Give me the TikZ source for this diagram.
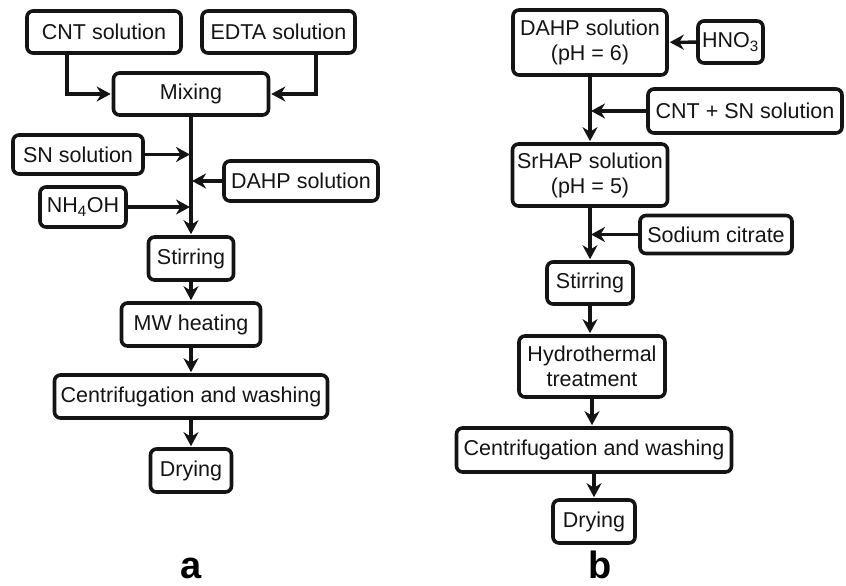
\documentclass[tikz,border=0pt]{standalone}
\usepackage{fontspec}
\setmainfont{Liberation Sans}
\usetikzlibrary{arrows.meta, positioning, calc}
\definecolor{inkgray}{HTML}{141414}
\tikzset{
  proc/.style={draw=inkgray, line width=3.6pt, rounded corners=6pt, fill=white,
               align=center, inner sep=3pt, text=inkgray,
               font=\fontsize{21.5}{25}\selectfont, minimum height=42pt},
  flow/.style={-{Stealth[length=14pt, width=15pt, inset=4.5pt]}, line width=3.3pt,
               draw=inkgray, shorten >=1pt},
  panel/.style={font=\fontsize{38}{40}\selectfont\bfseries, text=black,
                anchor=base, inner sep=0pt, text depth=0pt},
}

\begin{document}
\begin{tikzpicture}[x=1pt, y=-1pt]
  \useasboundingbox (0,0) rectangle (846,586);

  % (a)
  \node (cnt)  [proc, minimum width=154pt] at (104,32) {CNT solution};
  \node (edta) [proc, minimum width=153pt] at (278.5,32) {EDTA solution};
  \node (mix)  [proc, minimum width=155pt] at (191,94) {Mixing};
  \node (sn)   [proc, minimum width=130pt, minimum height=39pt] at (78,154.5) {SN solution};
  \node (dahpa)[proc, minimum width=154pt, minimum height=40pt] at (301,181) {DAHP solution};
  \node (nh)   [proc, minimum width=86pt, minimum height=40pt] at (83,207) {NH\textsubscript{4}OH};
  \node (stira)[proc, minimum width=85pt, minimum height=43pt] at (191,258.5) {Stirring};
  \node (mw)   [proc, minimum width=139pt, minimum height=43pt] at (191,324.5) {MW heating};
  \node (cena) [proc, minimum width=273pt, minimum height=43pt] at (191,396.5) {Centrifugation and washing};
  \node (drya) [proc, minimum width=81pt, minimum height=43pt] at (191,470.5) {Drying};
  \node (laba) [panel] at (191,578) {a};

  \draw[flow] ([xshift=-37pt]cnt.south) |- (mix.west);
  \draw[flow] ([xshift=37.5pt]edta.south) |- (mix.east);
  \draw[flow] (mix) -- (stira);
  \coordinate (jsn)   at (mix.south |- sn.east);
  \coordinate (jdahp) at (mix.south |- dahpa.west);
  \coordinate (jnh)   at (mix.south |- nh.east);
  \draw[flow] (sn) -- (jsn);
  \draw[flow] (dahpa) -- (jdahp);
  \draw[flow] (nh) -- (jnh);
  \draw[flow] (stira) -- (mw);
  \draw[flow] (mw) -- (cena);
  \draw[flow] (cena) -- (drya);

  % (b)
  \node (dahpb) [proc, minimum width=154pt, minimum height=65pt] at (590,42.5) {DAHP solution\\(pH = 6)};
  \node (hno)   [proc, minimum width=65pt] at (730.5,42) {HNO\textsubscript{3}};
  \node (cntsn) [proc, minimum width=194pt, minimum height=44pt] at (745,111) {CNT + SN solution};
  \node (srhap) [proc, minimum width=155pt, minimum height=62pt] at (590,175) {SrHAP solution\\(pH = 5)};
  \node (cit)   [proc, minimum width=152pt, minimum height=38pt] at (716,234.5) {Sodium citrate};
  \node (stirb) [proc, minimum width=86pt] at (590,283) {Stirring};
  \node (hydro) [proc, minimum width=146pt, minimum height=61pt] at (592,366.5) {Hydrothermal\\treatment};
  \node (cenb)  [proc, minimum width=275pt, minimum height=44pt] at (594,450) {Centrifugation and washing};
  \node (dryb)  [proc, minimum width=82pt, minimum height=43pt] at (594,521.5) {Drying};
  \node (labb)  [panel] at (600,578) {b};

  \draw[flow] (hno) -- (dahpb);
  \draw[flow] (dahpb) -- (srhap);
  \coordinate (jcnt) at (dahpb.south |- cntsn.west);
  \draw[flow] (cntsn) -- (jcnt);
  \draw[flow] (srhap) -- (stirb);
  \coordinate (jcit) at (srhap.south |- cit.west);
  \draw[flow] (cit) -- (jcit);
  \draw[flow] (stirb) -- (stirb |- hydro.north);
  \draw[flow] (hydro) -- (hydro |- cenb.north);
  \draw[flow] (cenb) -- (dryb);
\end{tikzpicture}
\end{document}
